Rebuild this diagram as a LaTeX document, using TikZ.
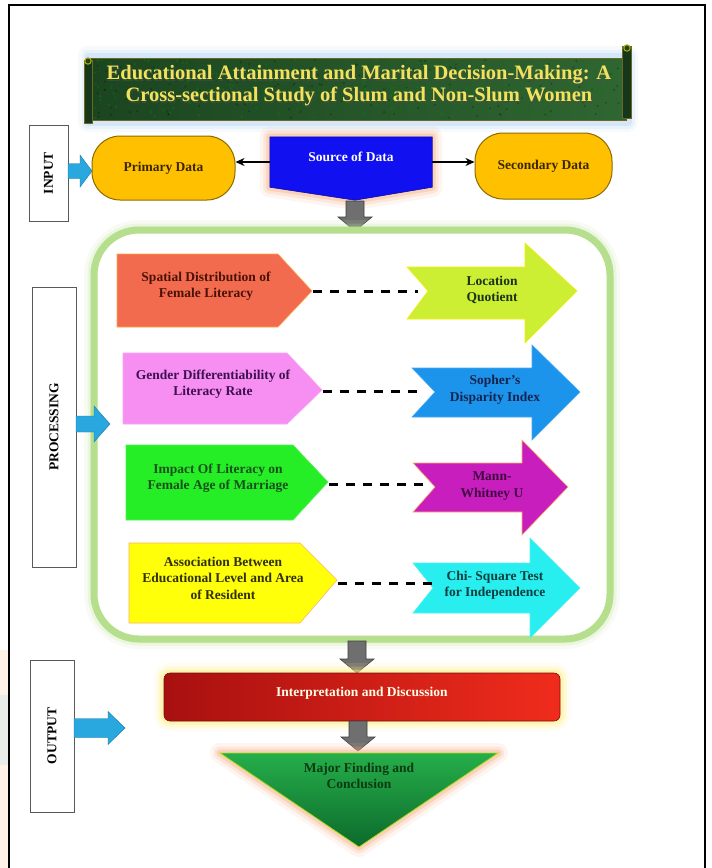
\documentclass[tikz,border=0pt]{standalone}
\usepackage{fontspec}
\setmainfont{Liberation Serif}
\usetikzlibrary{calc,arrows.meta}
\definecolor{sideblue}{HTML}{29A8E0}
\definecolor{arrgray}{HTML}{6F6F6F}
\definecolor{gold}{HTML}{FFC000}
\definecolor{goldedge}{HTML}{8C6A00}
\definecolor{goldtext}{HTML}{3A2600}
\definecolor{srcblue}{HTML}{1010F0}
\definecolor{glowOrange}{HTML}{F7B48C}
\definecolor{glowGreen}{HTML}{B5DF8C}
\definecolor{glowYellow}{HTML}{FFEF80}
\definecolor{glowBlue}{HTML}{B8D6F4}
\definecolor{bannerA}{HTML}{1B4520}
\definecolor{bannerB}{HTML}{2F6631}
\definecolor{titleyellow}{HTML}{F2E25C}
\definecolor{pA}{HTML}{F26B4E}\definecolor{pAt}{HTML}{4A1206}
\definecolor{pB}{HTML}{F78EF2}\definecolor{pBt}{HTML}{3E1052}
\definecolor{pC}{HTML}{26EE26}\definecolor{pCt}{HTML}{1A4E1C}
\definecolor{pD}{HTML}{FFFF0A}\definecolor{pDt}{HTML}{30300C}
\definecolor{aA}{HTML}{CCEE33}\definecolor{aAt}{HTML}{1A321A}
\definecolor{aB}{HTML}{1C94EC}\definecolor{aBt}{HTML}{16244F}
\definecolor{aC}{HTML}{C81EBE}\definecolor{aCt}{HTML}{400840}
\definecolor{aD}{HTML}{28EEF0}\definecolor{aDt}{HTML}{0C3E3E}
\definecolor{redL}{HTML}{A81010}\definecolor{redR}{HTML}{F02C1C}
\definecolor{triTop}{HTML}{26AE4A}\definecolor{triBot}{HTML}{0C6A2C}\definecolor{triText}{HTML}{0B3B12}
\newcommand\DownArr[3]{\path[grayarrow] (#1-9,#2) -- (#1+9,#2) -- (#1+9,#3-14) -- (#1+17,#3-14) -- (#1,#3) -- (#1-17,#3-14) -- (#1-9,#3-14) -- cycle;}
\newcommand\SideArr[6]{\path[bluearrow] (#1,#2-#5) -- (#3,#2-#5) -- (#3,#2-#6) -- (#4,#2) -- (#3,#2+#6) -- (#3,#2+#5) -- (#1,#2+#5) -- cycle;}
\begin{document}
\begin{tikzpicture}[x=1pt,y=-1pt,
  font=\bfseries\fontsize{13.5}{16.5}\selectfont,
  glow/.style={preaction={draw=#1,line width=20pt,opacity=0.12,line join=round},
               preaction={draw=#1,line width=13pt,opacity=0.22,line join=round},
               preaction={draw=#1,line width=7pt,opacity=0.4,line join=round}},
  sidelabel/.style={draw=black!65,line width=0.9pt,fill=white,rotate=90,inner sep=0pt,align=center},
  bluearrow/.style={fill=sideblue,draw=sideblue!70!black,line width=0.4pt},
  grayarrow/.style={fill=arrgray,draw=arrgray!55!black,line width=0.6pt},
  dashline/.style={line width=3pt,dash pattern=on 9pt off 8pt},
  txt/.style={align=center,inner sep=0pt},
  datanode/.style={rectangle,rounded corners=28pt,fill=gold,draw=goldedge,line width=1pt,text=goldtext,minimum height=64pt,inner sep=0pt},
  conn/.style={-{Stealth[length=9pt,width=8pt]},line width=2pt}
]
\useasboundingbox (0,0) rectangle (712,868);
\fill[white] (0,0) rectangle (712,868);
% faint left-edge tints
\fill[orange!60,opacity=0.15] (0,650) rectangle (8,868);
\fill[cyan!60,opacity=0.15] (0,695) rectangle (8,765);
% outer frame
\draw[line width=2.5pt] (9,5) rectangle (705,880);

% ---------- title banner ----------
\path[glow=glowBlue] (88,56) rectangle (628,122);
\path[left color=bannerA,right color=bannerB,draw=olive!70!black,line width=0.8pt] (90,58) rectangle (626,120);
\pgfmathsetseed{11}
\foreach \i in {1,...,260}{
  \pgfmathsetmacro\xx{92+532*rnd}\pgfmathsetmacro\yy{60+58*rnd}
  \fill[green!55!black,opacity=0.35] (\xx,\yy) circle (1.3pt);}
\foreach \i in {1,...,160}{
  \pgfmathsetmacro\xx{92+532*rnd}\pgfmathsetmacro\yy{60+58*rnd}
  \fill[black,opacity=0.25] (\xx,\yy) circle (1.1pt);}
\path[fill=bannerA!80!black,draw=olive!70!black,line width=0.8pt] (84,60) rectangle (92,123);
\draw[olive!60!yellow,line width=1pt,fill=bannerA] (88,61) circle (3.2pt);
\path[fill=bannerA!80!black,draw=olive!70!black,line width=0.8pt] (622,46) rectangle (631,118);
\draw[olive!60!yellow,line width=1pt,fill=bannerA] (627,48) circle (3.2pt);
\node[txt,text=black!70,opacity=0.6,font=\bfseries\fontsize{20.5}{22}\selectfont] at (360,87.2)
  {Educational Attainment and Marital Decision-Making: A\\Cross-sectional Study of Slum and Non-Slum Women};
\node[txt,text=titleyellow,font=\bfseries\fontsize{20.5}{22}\selectfont] (title) at (359,86)
  {Educational Attainment and Marital Decision-Making: A\\Cross-sectional Study of Slum and Non-Slum Women};

% ---------- input row ----------
\node[sidelabel,minimum width=96pt,minimum height=39pt] (inbox) at (48.5,173) {INPUT};
\SideArr{68}{171}{80}{92}{7.5}{16}
\node[datanode,minimum width=143pt] (prim) at (163.5,168) {Primary Data};
\node[datanode,minimum width=137pt,minimum height=66pt] (sec) at (543.5,166) {Secondary Data};
\node[rectangle,minimum width=162pt,minimum height=50pt,inner sep=0pt] (src) at (351,162) {};
\path[glow=glowOrange,fill=srcblue,draw=srcblue!70!black,line width=0.6pt]
  (src.north west) -- (src.north east) -- (src.south east) -- ($(src.south)+(4,13)$) -- (src.south west) -- cycle;
\node[txt,text=white] (srctext) at (351,157) {Source of Data};
\coordinate (srcpt) at ($(src.south)+(4,13)$);
\draw[conn] (src.west) -- (src.west -| prim.east);
\draw[conn] (src.east) -- (src.east -| sec.west);
\DownArr{355}{201}{231}

% ---------- processing ----------
\node[rectangle,rounded corners=45pt,minimum width=516pt,minimum height=409pt,inner sep=0pt,
      draw=glowGreen,line width=7pt,fill=white,glow=glowGreen!80] (proc) at (352,434.5) {};
\node[sidelabel,minimum width=280pt,minimum height=44pt] (procbox) at (54,427) {PROCESSING};
\SideArr{76}{424}{94}{110}{8}{18}

% row 1
\path[fill=pA,draw=orange!70,line width=0.6pt] (117,254) -- (278,254) -- (312,291) -- (278,327) -- (117,327) -- cycle;
\node[txt,text=pAt] (t1) at (206,286) {Spatial Distribution of\\Female Literacy};
\path[fill=aA,draw=yellow!80!aA,line width=0.6pt] (407,267) -- (525,267) -- (525,243) -- (577,291) -- (525,343) -- (525,319) -- (407,319) -- (428,291) -- cycle;
\node[txt,text=aAt] (m1) at (492,290) {Location\\Quotient};
\coordinate (p1tip) at (313,291); \coordinate (a1end) at (418,291);
\draw[dashline] (p1tip) -- (a1end);

% row 2
\path[fill=pB,draw=pB!80!white,line width=0.6pt] (123,353) -- (287,353) -- (322,390) -- (287,424) -- (123,424) -- cycle;
\node[txt,text=pBt] (t2) at (213,384) {Gender Differentiability of\\Literacy Rate};
\path[fill=aB,draw=aB!80!white,line width=0.6pt] (412,368) -- (532,368) -- (532,345) -- (580,392) -- (532,440) -- (532,417) -- (412,417) -- (435,392) -- cycle;
\node[txt,text=aBt] (m2) at (495,390) {Sopher's\\Disparity Index};
\coordinate (p2tip) at (323,391); \coordinate (a2end) at (418,391);
\draw[dashline] (p2tip) -- (a2end);

% row 3
\path[fill=pC,draw=pC!80!white,line width=0.6pt] (126,445) -- (293,445) -- (328,482) -- (293,520) -- (126,520) -- cycle;
\node[txt,text=pCt] (t3) at (218,478) {Impact Of Literacy on\\Female Age of Marriage};
\path[fill=aC,draw=orange!60,line width=0.6pt] (413,463) -- (522,463) -- (522,440) -- (568,487) -- (522,535) -- (522,512) -- (413,512) -- (435,487) -- cycle;
\node[txt,text=aCt] (m3) at (492,486) {Mann-\\Whitney U};
\coordinate (p3tip) at (329,484); \coordinate (a3end) at (426,484);
\draw[dashline] (p3tip) -- (a3end);

% row 4
\path[fill=pD,draw=orange!60,line width=0.6pt] (129,543) -- (300,543) -- (337,580) -- (300,623) -- (129,623) -- cycle;
\node[txt,text=pDt] (t4) at (223,578) {Association Between\\Educational Level and Area\\of Resident};
\path[fill=aD,draw=aD!80!white,line width=0.6pt] (413,563) -- (530,563) -- (530,538) -- (580,588) -- (530,638) -- (530,613) -- (413,613) -- (433,588) -- cycle;
\node[txt,text=aDt] (m4) at (495,585) {Chi- Square Test\\for Independence};
\coordinate (p4tip) at (338,583); \coordinate (a4end) at (432,583);
\draw[dashline] (p4tip) -- (a4end);

% ---------- output ----------
\DownArr{357}{641}{673}
\node[sidelabel,minimum width=152pt,minimum height=44pt] (outbox) at (52,736) {OUTPUT};
\SideArr{74}{728}{108}{125}{9.5}{16.5}
\node[rectangle,rounded corners=6pt,minimum width=396pt,minimum height=48pt,inner sep=0pt,
      left color=redL,right color=redR,draw=redL!70!black,line width=0.6pt,glow=glowYellow] (interp) at (362,697) {};
\node[txt,text=white!90!yellow] (interptext) at (362,693) {Interpretation and Discussion};
\DownArr{358}{721}{751}
\path[glow=glowOrange,top color=triTop,bottom color=triBot,draw=yellow!70!green,line width=0.8pt] (220,753) -- (498,753) -- (359,847) -- cycle;
\node[txt,text=triText] (concl) at (359,776) {Major Finding and\\Conclusion};
\end{tikzpicture}
\end{document}
